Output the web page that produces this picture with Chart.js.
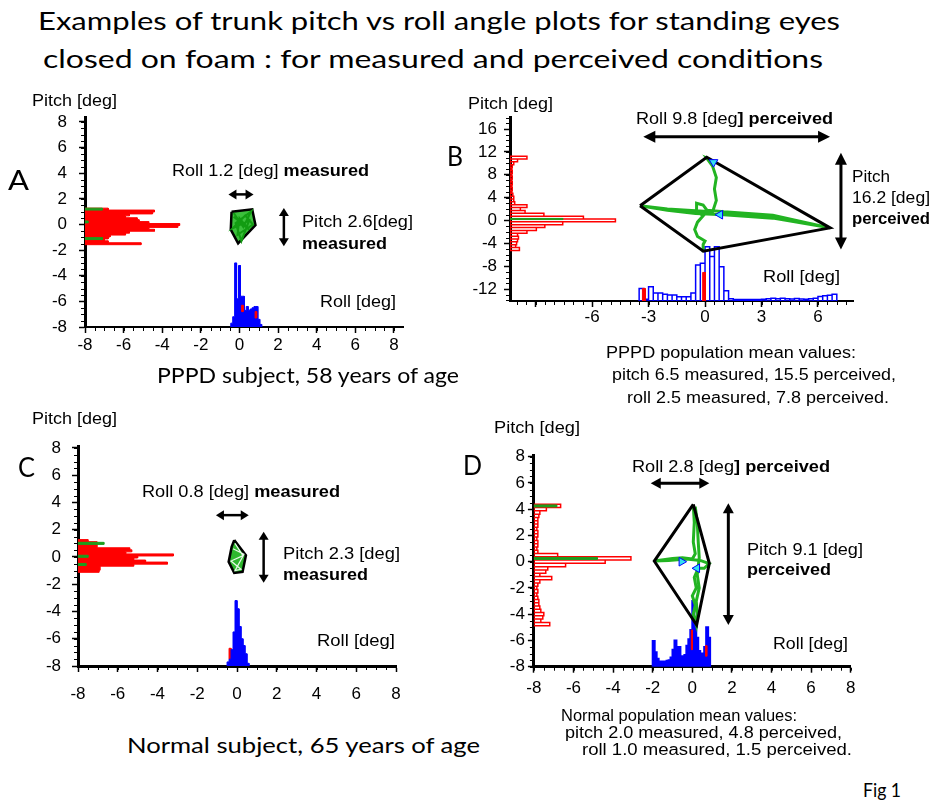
<!DOCTYPE html>
<html>
<head>
<meta charset="utf-8">
<script src="https://cdn.jsdelivr.net/npm/chart.js@4.4.0/dist/chart.umd.min.js"></script>
<style>
  html, body { margin: 0; background: #fff; }
  #page { position: relative; width: 943px; height: 810px; overflow: hidden; background: #fff; }
  #page canvas { position: absolute; }
  .t { position: absolute; white-space: nowrap; color: #000; transform-origin: 0 0; }
</style>
</head>
<body>
<div id="page"></div>
<script>
const ARIAL = "'Liberation Sans', Arial, sans-serif";
const CALIBRI = "Lato, 'Open Sans', sans-serif";
const RED = '#ff0000', BLUE = '#0000ff', GREEN = '#22b422', MARK = '#1e9e1e', CYAN = '#33e0f0';

// ── Panel A: PPPD subject, measured ─────────────────────────────────────────
const aPitchBins   = [1.2, 1.05, 0.9, 0.75, 0.6, 0.45, 0.3, 0.15, 0, -0.15, -0.3, -0.45, -0.6, -0.75, -0.9, -1.05, -1.2, -1.35, -1.5];
const aPitchCounts = [1.2, 3.6, 3.5, 2.3, 2.1, 2.7, 2.8, 3.3, 4.9, 4.8, 3.3, 3.6, 2.3, 2.1, 1.3, 1.2, 1.0, 1.2, 2.9];
const aPitchGreenBins   = [1.2, 0.2, -1.1];
const aPitchGreenCounts = [0.9, 0.15, 0.9];
const aRollBins   = [-0.4, -0.3, -0.2, -0.1, 0, 0.1, 0.2, 0.3, 0.4, 0.5, 0.6, 0.7, 0.8, 0.9, 1.0, 1.1];
const aRollCounts = [0.3, 0.8, 5.0, 2.2, 4.8, 2.4, 2.4, 1.3, 1.6, 1.3, 1.4, 1.5, 1.6, 1.6, 0.6, 0.2];
const aRollRedBins = [0.15, 0.85];
const aRollRedFrom = [1.2, 0.7];
const aRollRedTo   = [1.7, 1.2];
const aHullRoll  = [-0.41, 0.66, 0.83, -0.07, -0.45, -0.41];
const aHullPitch = [1.0, 1.18, -0.05, -1.48, -0.4, 1.0];
const aPathRoll  = [-0.3, 0.2, 0.6, -0.2, 0.1, 0.5, -0.35, 0.3, 0.7, -0.1, 0.0, 0.5, -0.3];
const aPathPitch = [0.9, -0.2, 1.0, 0.1, -1.3, 0.3, -0.3, 0.7, 0.0, -0.8, 0.5, -0.4, 0.6];
const aArrows = [[-0.57, 2.35, 0.73, 2.35], [2.3, 1.28, 2.3, -1.7]];

// ── Panel B: PPPD subject, perceived ────────────────────────────────────────
const bPitchBins   = [11, 10.5, 10, 9.5, 9, 8.5, 8, 7.5, 7, 6.5, 6, 5.5, 5, 4.5, 4, 3.5, 3, 2.5, 2, 1.5, 1, 0.5, 0, -0.5, -1, -1.5, -2, -2.5, -3, -3.5, -4, -4.5, -5];
const bPitchCounts = [0.9, 0.4, 0.2, 0.12, 0.1, 0.12, 0.1, 0.12, 0.1, 0.12, 0.1, 0.12, 0.1, 0.15, 0.2, 0.2, 0.25, 0.9, 0.55, 0.8, 1.8, 3.9, 5.6, 2.8, 1.85, 1.4, 0.9, 0.4, 0.45, 0.4, 0.35, 0.3, 0.5];
const bPitchGreenBins   = [0.25];
const bPitchGreenCounts = [2.8];
const bRollBins   = [-3.375, -3.125, -2.875, -2.625, -2.375, -2.125, -1.875, -1.625, -1.375, -1.125, -0.875, -0.625, -0.375, -0.125,
                     0.125, 0.375, 0.625, 0.875, 1.125, 1.375, 1.625, 1.875, 2.125, 2.375, 2.625, 2.875, 3.125, 3.375,
                     3.625, 3.875, 4.125, 4.375, 4.625, 4.875, 5.125, 5.375, 5.625, 5.875, 6.125, 6.375, 6.625, 6.875];
const bRollCounts = [2.2, 0.3, 2.5, 1.4, 1.4, 1.2, 1.05, 1.05, 0.75, 0.75, 0.75, 1.4, 6.3, 6.6,
                     9.5, 7.8, 9.5, 6.0, 1.8, 0.4, 0.25, 0.25, 0.25, 0.25, 0.25, 0.25, 0.3, 0.4,
                     0.5, 0.4, 0.5, 0.4, 0.35, 0.45, 0.35, 0.3, 0.4, 0.5, 0.8, 0.9, 1.0, 1.2];
const bRollRedBins = [-3.25, -0.05];
const bRollRedFrom = [0, 0];
const bRollRedTo   = [2.2, 5.0];
const bHullRoll  = [-3.45, 0.09, 6.64, -0.09, -3.45];
const bHullPitch = [2.57, 11.05, -1.3, -5.37, 2.57];
const bPathRoll  = [-0.09, -0.1, 0.0, -0.4, -0.55, -0.4, -0.1, -0.45, -0.45, -0.1, 0.1, 1.0, 3.6, 6.64, 3.6, 1.0, -0.5, -2.0, -3.45, -2.0, -0.5, 0.4, 0.6, 0.5, 0.6, 0.4, 0.09, 0.3];
const bPathPitch = [-5.3, -4.2, -3.6, -2.8, -1.6, -0.3, 0.8, 1.6, 3.0, 2.7, 1.8, 1.5, 0.9, -1.3, 0.4, 1.0, 1.2, 1.8, 2.57, 2.0, 1.7, 1.5, 3.5, 5.5, 7.5, 9.5, 10.9, 10.6];
const bMarkRoll  = [0.45, 0.8];
const bMarkPitch = [10.2, 1.0];
const bArrows = [[-3.28, 14.65, 6.64, 14.65], [7.22, 11.85, 7.22, -5.07]];

// ── Panel C: normal subject, measured ───────────────────────────────────────
const cPitchBins   = [1.2, 1.05, 0.9, 0.75, 0.6, 0.45, 0.3, 0.15, 0, -0.15, -0.3, -0.45, -0.6, -0.75, -0.9, -1.05];
const cPitchCounts = [0.5, 0.95, 0.95, 0.95, 2.6, 2.7, 2.4, 4.8, 3.0, 2.8, 3.4, 4.5, 2.8, 1.1, 1.1, 1.05];
const cPitchGreenBins   = [1.0, 0.05, -0.55];
const cPitchGreenCounts = [1.3, 0.5, 0.4];
const cRollBins   = [-0.45, -0.35, -0.25, -0.15, -0.05, 0.05, 0.15, 0.25, 0.35, 0.45, 0.55];
const cRollCounts = [0.3, 0.5, 1.2, 2.5, 4.8, 4.2, 2.9, 2.0, 1.5, 0.9, 0.2];
const cRollRedBins = [-0.35];
const cRollRedFrom = [0.5];
const cRollRedTo   = [1.3];
const cHullRoll  = [-0.14, 0.45, 0.28, -0.14, -0.42, -0.27, -0.14];
const cHullPitch = [1.24, 0.13, -1.1, -1.17, -0.36, 0.74, 1.24];
const cPathRoll  = [-0.1, 0.3, -0.3, 0.2, -0.1, 0.35, -0.2];
const cPathPitch = [1.0, 0.1, -0.3, -0.9, -1.0, 0.2, 0.6];
const cArrows = [[-1.06, 3.07, 0.59, 3.07], [1.34, 1.85, 1.34, -1.9]];

// ── Panel D: normal subject, perceived ──────────────────────────────────────
const dPitchBins   = [4.25, 4.0, 3.75, 3.5, 3.25, 3.0, 2.75, 2.5, 2.25, 2.0, 1.75, 1.5, 1.25, 1.0, 0.75, 0.5, 0.25, 0, -0.25,
                      -0.5, -0.75, -1.0, -1.25, -1.5, -1.75, -2.0, -2.25, -2.5, -2.75, -3.0, -3.25, -3.5, -3.75, -4.0, -4.25, -4.5, -4.75];
const dPitchCounts = [1.35, 0.63, 0.3, 0.25, 0.2, 0.2, 0.2, 0.15, 0.2, 0.2, 0.15, 0.2, 0.2, 0.15, 0.2, 1.2, 4.9, 3.6, 1.6,
                      0.7, 0.6, 0.3, 0.9, 0.3, 0.2, 0.15, 0.2, 0.15, 0.2, 0.25, 0.25, 0.3, 0.35, 0.5, 0.45, 0.35, 0.8];
const dPitchGreenBins   = [4.25, 0.25];
const dPitchGreenCounts = [1.15, 3.2];
const dRollBins   = [-1.95, -1.85, -1.75, -1.65, -1.55, -1.45, -1.35, -1.25, -1.15, -1.05, -0.95, -0.85, -0.75, -0.65, -0.55,
                     -0.45, -0.35, -0.25, -0.15, -0.05, 0.05, 0.15, 0.25, 0.35, 0.45, 0.55, 0.65, 0.75, 0.85];
const dRollCounts = [1.95, 1.1, 0.6, 0.4, 0.4, 0.35, 0.4, 0.45, 0.5, 0.7, 1.3, 2.0, 1.4, 1.5, 0.8,
                     0.6, 0.9, 1.6, 2.1, 2.8, 5.0, 3.6, 2.2, 1.2, 0.8, 1.0, 1.5, 3.0, 2.2];
const dRollRedBins = [-0.02, 0.7];
const dRollRedFrom = [1.3, 0.8];
const dRollRedTo   = [2.8, 1.6];
const dHullRoll  = [0.05, 0.86, 0.22, -1.92, 0.05];
const dHullPitch = [4.37, -0.12, -4.82, 0.05, 4.37];
const dPathRoll  = [0.05, 0.1, 0.05, 0.15, 0.0, -0.5, -1.0, -1.92, -1.2, -0.3, 0.4, 0.85, 0.6, 0.3, 0.1, 0.2, 0.0, 0.15, 0.05, 0.2,
                    0.25, 0.2, 0.35, 0.25, 0.35, 0.3, 0.25, 0.15];
const dPathPitch = [4.3, 3.0, 1.5, 0.6, 0.2, 0.3, 0.25, 0.05, 0.1, 0.2, 0.1, -0.15, -0.5, -0.5, -1.2, -2.0, -2.6, -3.3, -4.0, -4.8,
                    -4.0, -3.0, -2.0, -1.0, 0.3, 1.5, 3.0, 4.2];
const dMarkRoll  = [-0.54, 0.24];
const dMarkPitch = [0.0, -0.5];
const dArrows = [[-2.1, 5.97, 0.86, 5.97], [1.82, 4.45, 1.82, -4.82]];

// ── helpers ─────────────────────────────────────────────────────────────────
const page = document.getElementById('page');
const pts = (xs, ys) => xs.map((v, i) => ({ x: v, y: ys[i] }));

// stepped outline of a histogram whose bars grow along x from `base` (bins listed top to bottom)
function hOutline(bins, counts, bin, base) {
  const out = [{ x: base, y: bins[0] + bin / 2 }];
  bins.forEach((c, i) => out.push({ x: base + counts[i], y: c + bin / 2 }, { x: base + counts[i], y: c - bin / 2 }));
  out.push({ x: base, y: bins[bins.length - 1] - bin / 2 });
  return out;
}
// same, bars growing along y from `base` (bins listed left to right)
function vOutline(bins, counts, bin, base) {
  const out = [{ x: bins[0] - bin / 2, y: base }];
  bins.forEach((c, i) => out.push({ x: c - bin / 2, y: base + counts[i] }, { x: c + bin / 2, y: base + counts[i] }));
  out.push({ x: bins[bins.length - 1] + bin / 2, y: base });
  return out;
}
// separate boxes, each from lo to hi along the value direction, broken by gaps
function boxes(bins, lo, hi, bin, horizontal) {
  const out = [];
  bins.forEach((c, i) => {
    const a = c - bin / 2, b = c + bin / 2;
    const corners = horizontal
      ? [[lo[i], b], [hi[i], b], [hi[i], a], [lo[i], a], [lo[i], b]]
      : [[a, lo[i]], [a, hi[i]], [b, hi[i]], [b, lo[i]], [a, lo[i]]];
    corners.forEach(([x, y]) => out.push({ x, y }));
    out.push({ x: corners[0][0], y: null });
  });
  return out;
}
const fromBase = (counts, base) => counts.map(() => base);
const toCount = (counts, base) => counts.map(c => base + c);

const solid = (data, color, border, width) => ({ data, fill: 'shape', backgroundColor: color, borderColor: border || color, borderWidth: width || 1 });
const outline = (data, color, width) => ({ data, fill: false, borderColor: color, borderWidth: width });
const marks = (xs, ys, rot) => ({ data: pts(xs, ys), showLine: false, pointStyle: 'triangle', pointRadius: 5, pointRotation: rot,
  pointBackgroundColor: CYAN, pointBorderColor: BLUE, pointBorderWidth: 1 });

// small minor ticks along both axes
const minorTicks = {
  id: 'minorTicks',
  afterDraw(chart, args, o) {
    const { ctx, chartArea: ca, scales: { x, y } } = chart;
    ctx.save();
    ctx.fillStyle = '#000';
    const len = o.len || 3;
    for (let n = Math.ceil(x.min / o.x); n <= Math.floor(x.max / o.x); n++) {
      ctx.fillRect(Math.round(x.getPixelForValue(n * o.x)), ca.bottom + 1, 1, len);
    }
    for (let n = Math.ceil(y.min / o.y); n <= Math.floor(y.max / o.y); n++) {
      ctx.fillRect(ca.left - 1 - len, Math.round(y.getPixelForValue(n * o.y)), len, 1);
    }
    ctx.restore();
  }
};

// double-headed range arrows, given in axis units
const rangeArrows = {
  id: 'rangeArrows',
  afterDatasetsDraw(chart, args, o) {
    const { ctx, scales: { x, y } } = chart;
    const head = (px, py, a) => {
      ctx.beginPath();
      ctx.moveTo(px, py);
      ctx.lineTo(px - o.head * Math.cos(a) + o.half * Math.sin(a), py - o.head * Math.sin(a) - o.half * Math.cos(a));
      ctx.lineTo(px - o.head * Math.cos(a) - o.half * Math.sin(a), py - o.head * Math.sin(a) + o.half * Math.cos(a));
      ctx.closePath();
      ctx.fill();
    };
    ctx.save();
    ctx.strokeStyle = ctx.fillStyle = '#000';
    ctx.lineWidth = o.width;
    for (const [r1, p1, r2, p2] of o.list) {
      const x1 = x.getPixelForValue(r1), y1 = y.getPixelForValue(p1);
      const x2 = x.getPixelForValue(r2), y2 = y.getPixelForValue(p2);
      const a = Math.atan2(y2 - y1, x2 - x1), c = Math.cos(a) * o.head * 0.7, s = Math.sin(a) * o.head * 0.7;
      ctx.beginPath();
      ctx.moveTo(x1 + c, y1 + s);
      ctx.lineTo(x2 - c, y2 - s);
      ctx.stroke();
      head(x2, y2, a);
      head(x1, y1, a + Math.PI);
    }
    ctx.restore();
  }
};

const Y_W = 44, X_H = 40;

function panel(p) {
  const [bx, by, bw, bh] = p.box;
  const [L, T, R, B] = p.area;
  const cv = document.createElement('canvas');
  cv.width = bw;
  cv.height = bh;
  cv.style.left = bx + 'px';
  cv.style.top = by + 'px';
  page.appendChild(cv);
  p.datasets.forEach((d, i, all) => { d.order = all.length - i; });   // listed bottom → top
  const font = { family: ARIAL, size: 17 };
  const label = v => (p.hide && p.hide.includes(v) ? '' : String(v));
  return new Chart(cv, {
    type: 'line',
    data: { datasets: p.datasets },
    options: {
      responsive: false,
      animation: false,
      events: [],
      devicePixelRatio: 1,
      layout: { padding: { left: L - bx - Y_W, top: T - by, right: bx + bw - R, bottom: by + bh - B - X_H } },
      elements: { point: { radius: 0 }, line: { tension: 0 } },
      plugins: {
        legend: { display: false },
        tooltip: { enabled: false },
        minorTicks: p.minor,
        rangeArrows: p.arrows,
      },
      scales: {
        x: {
          type: 'linear', min: p.x[0], max: p.x[1],
          afterFit: s => { s.height = X_H; },
          border: { color: '#000', width: p.xw },
          grid: { drawOnChartArea: false, color: '#000', tickLength: 6, tickWidth: 1.5 },
          ticks: { stepSize: p.x[2], includeBounds: false, autoSkip: false, maxRotation: 0, color: '#000', font, padding: p.xpad, callback: label },
        },
        y: {
          type: 'linear', min: p.y[0], max: p.y[1],
          afterFit: s => { s.width = Y_W; },
          border: { color: '#000', width: p.yw },
          grid: { drawOnChartArea: false, color: '#000', tickLength: 6, tickWidth: 1.5 },
          ticks: { stepSize: p.y[2], includeBounds: false, autoSkip: false, color: '#000', font, padding: p.ypad, callback: label },
        },
      },
    },
    plugins: [minorTicks, rangeArrows],
  });
}

// ── the four panels ─────────────────────────────────────────────────────────
panel({
  box: [0, 90, 440, 290], area: [85, 117.5, 403, 327],
  x: [-8, 8.47, 2], y: [-8, 8.35, 2], xw: 2, yw: 3, xpad: 2, ypad: 12,
  minor: { x: 0.5, y: 0.5 },
  arrows: { list: aArrows, head: 8, half: 5, width: 2.5 },
  datasets: [
    solid(hOutline(aPitchBins, aPitchCounts, 0.15, -8), RED),
    solid(boxes(aPitchGreenBins, fromBase(aPitchGreenCounts, -8), toCount(aPitchGreenCounts, -8), 0.15, true), MARK),
    solid(vOutline(aRollBins, aRollCounts, 0.1, -8), BLUE),
    solid(boxes(aRollRedBins, aRollRedFrom.map(v => v - 8), aRollRedTo.map(v => v - 8), 0.08, false), RED),
    solid(pts(aHullRoll, aHullPitch), '#3cbf3c', '#000', 2.5),
    outline(pts(aPathRoll, aPathPitch), '#129c12', 2),
  ],
});

panel({
  box: [440, 90, 440, 290], area: [510, 117, 853, 301],
  x: [-10.36, 7.86, 3], y: [-14.1, 18.1, 4], xw: 2, yw: 3, xpad: 0, ypad: 7, hide: [-9],
  minor: { x: 0.5, y: 1 },
  arrows: { list: bArrows, head: 12, half: 6, width: 3 },
  datasets: [
    outline(boxes(bPitchBins, fromBase(bPitchCounts, -10.36), toCount(bPitchCounts, -10.36), 0.5, true), RED, 1.5),
    solid(boxes(bPitchGreenBins, fromBase(bPitchGreenCounts, -10.36), toCount(bPitchGreenCounts, -10.36), 0.2, true), MARK),
    outline(boxes(bRollBins, fromBase(bRollCounts, -14.1), toCount(bRollCounts, -14.1), 0.25, false), BLUE, 1.5),
    solid(boxes(bRollRedBins, bRollRedFrom.map(v => v - 14.1), bRollRedTo.map(v => v - 14.1), 0.15, false), RED),
    outline(pts(bPathRoll, bPathPitch), GREEN, 3),
    outline(pts(bHullRoll, bHullPitch), '#000', 3),
    marks(bMarkRoll, bMarkPitch, [180, -90]),
  ],
});

panel({
  box: [0, 400, 440, 320], area: [78, 446.6, 396, 666],
  x: [-8, 8, 2], y: [-8, 8.1, 2], xw: 3, yw: 3, xpad: 12, ypad: 11,
  minor: { x: 0.5, y: 0.5 },
  arrows: { list: cArrows, head: 8, half: 5, width: 2.5 },
  datasets: [
    solid(hOutline(cPitchBins, cPitchCounts, 0.15, -8), RED),
    solid(boxes(cPitchGreenBins, fromBase(cPitchGreenCounts, -8), toCount(cPitchGreenCounts, -8), 0.15, true), MARK),
    solid(boxes(cRollRedBins, cRollRedFrom.map(v => v - 8), cRollRedTo.map(v => v - 8), 0.1, false), RED),
    solid(vOutline(cRollBins, cRollCounts, 0.1, -8), BLUE),
    solid(pts(cHullRoll, cHullPitch), '#2fb82f', '#000', 2.5),
    outline(pts(cPathRoll, cPathPitch), '#e8f8e8', 1.2),
  ],
});

panel({
  box: [440, 400, 440, 320], area: [533.9, 455.4, 850.7, 666.7],
  x: [-8, 8, 2], y: [-8, 8.1, 2], xw: 3, yw: 3, xpad: 5, ypad: 3,
  minor: { x: 0.5, y: 0.5 },
  arrows: { list: dArrows, head: 10, half: 5.5, width: 3 },
  datasets: [
    outline(boxes(dPitchBins, fromBase(dPitchCounts, -8), toCount(dPitchCounts, -8), 0.25, true), RED, 1.5),
    solid(boxes(dPitchGreenBins, fromBase(dPitchGreenCounts, -8), toCount(dPitchGreenCounts, -8), 0.15, true), MARK),
    outline(boxes(dRollBins, fromBase(dRollCounts, -8), toCount(dRollCounts, -8), 0.1, false), BLUE, 2),
    solid(boxes(dRollRedBins, dRollRedFrom.map(v => v - 8), dRollRedTo.map(v => v - 8), 0.06, false), RED),
    outline(pts(dPathRoll, dPathPitch), GREEN, 3),
    outline(pts(dHullRoll, dHullPitch), '#000', 3),
    marks(dMarkRoll, dMarkPitch, [90, -90]),
  ],
});

// ── text: [html, left, baseline, font size, width, family] ──────────────────
const texts = [
  ['Examples of trunk pitch vs roll angle plots for standing eyes', 38, 30, 25.5, 802, CALIBRI],
  ['closed on foam : for measured and perceived conditions', 43, 68, 25.5, 780, CALIBRI],
  ['A', 8, 190, 26, 21, CALIBRI],
  ['B', 447, 166, 26, 16, CALIBRI],
  ['C', 18, 477, 26, 17, CALIBRI],
  ['D', 463, 475, 26, 19, CALIBRI],
  ['PPPD subject, 58 years of age', 157, 383, 22, 302, CALIBRI],
  ['Normal subject, 65 years of age', 127, 753, 22, 353, CALIBRI],
  ['Fig 1', 863, 797, 20, 38, CALIBRI],

  ['Pitch [deg]', 32, 106, 16, 85, ARIAL],
  ['Roll 1.2 [deg] <b>measured</b>', 172, 176, 16, 197, ARIAL],
  ['Pitch 2.6[deg]', 302, 227, 16, 111, ARIAL],
  ['<b>measured</b>', 302, 249, 16, 85, ARIAL],
  ['Roll [deg]', 320, 307, 16, 76, ARIAL],

  ['Pitch [deg]', 468, 109, 16, 85, ARIAL],
  ['Roll 9.8 [deg<b>] perceived</b>', 636, 124, 16, 197, ARIAL],
  ['Pitch', 852, 182, 16, 38, ARIAL],
  ['16.2 [deg]', 852, 203, 16, 78, ARIAL],
  ['<b>perceived</b>', 852, 224, 16, 78, ARIAL],
  ['Roll [deg]', 763, 282, 16, 77, ARIAL],
  ['PPPD population mean values:', 606, 358, 16, 250, ARIAL],
  ['pitch 6.5 measured, 15.5 perceived,', 612, 380, 16, 284, ARIAL],
  ['roll 2.5 measured, 7.8 perceived.', 627, 403, 16, 262, ARIAL],

  ['Pitch [deg]', 32, 424, 16, 85, ARIAL],
  ['Roll 0.8 [deg] <b>measured</b>', 142, 497, 16, 198, ARIAL],
  ['Pitch 2.3 [deg]', 283, 559, 16, 117, ARIAL],
  ['<b>measured</b>', 283, 580, 16, 85, ARIAL],
  ['Roll [deg]', 317, 646, 16, 78, ARIAL],

  ['Pitch [deg]', 494, 433, 16, 86, ARIAL],
  ['Roll 2.8 [deg<b>] perceived</b>', 632, 472, 16, 198, ARIAL],
  ['Pitch 9.1 [deg]', 747, 555, 16, 116, ARIAL],
  ['<b>perceived</b>', 747, 575, 16, 84, ARIAL],
  ['Roll [deg]', 773, 649, 16, 75, ARIAL],
  ['Normal population mean values:', 561, 721, 16, 236, ARIAL],
  ['pitch 2.0 measured, 4.8 perceived,', 565, 738, 16, 277, ARIAL],
  ['roll 1.0 measured, 1.5 perceived.', 582, 755, 16, 270, ARIAL],
];

for (const [html, left, base, size, width, family] of texts) {
  const el = document.createElement('div');
  el.className = 't';
  el.style.fontFamily = family;
  el.style.fontSize = size + 'px';
  el.style.lineHeight = '1';
  el.innerHTML = html + '<span style="display:inline-block;width:0;height:0"></span>';
  page.appendChild(el);
  const baseline = el.lastChild.offsetTop;
  const w = el.getBoundingClientRect().width;
  el.style.left = left + 'px';
  el.style.top = (base - baseline) + 'px';
  el.style.transform = `scaleX(${width / w})`;
}
</script>
</body>
</html>
